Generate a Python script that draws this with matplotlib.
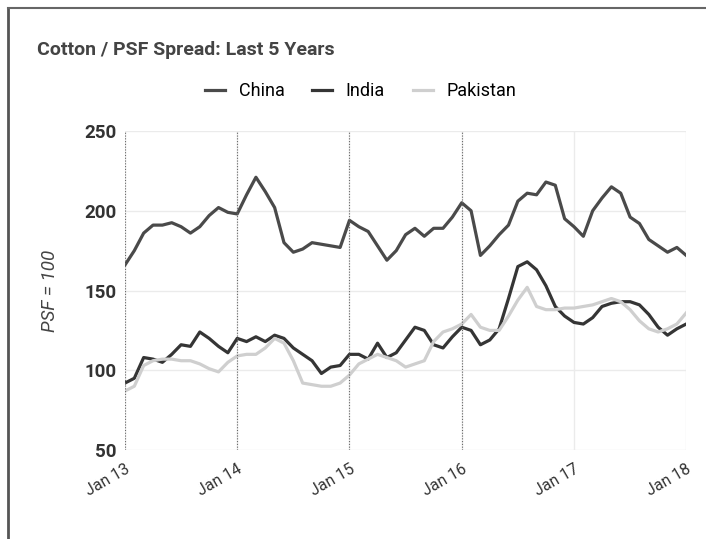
import numpy as np
import matplotlib.pyplot as plt
from matplotlib.lines import Line2D

plt.rcParams['font.family'] = ['Roboto', 'DejaVu Sans']

# monthly values, Jan 2013 .. Jan 2018
months = np.arange(61)
china = [166, 175, 186, 191, 191, 192.5, 190, 186, 190, 197, 202, 199,
         198, 210, 221, 212, 202, 180, 174, 176, 180, 179, 178, 177,
         194, 190, 187, 178, 169, 175, 185, 189, 184, 189, 189, 196,
         205, 200, 172, 178, 185, 191, 206, 211, 210, 218, 216, 195,
         190, 184, 200, 208, 215, 211, 196, 192, 182, 178, 174, 177,
         172]
india = [92, 95, 108, 107, 105, 110, 116, 115, 124, 120, 115, 111,
         120, 118, 121, 118, 122, 120, 114, 110, 106, 98, 102, 103,
         110, 110, 107, 117, 108, 111, 119, 127, 125, 116, 114, 121,
         127, 125, 116, 119, 126, 145, 165, 168, 163, 153, 140, 134,
         130, 129, 133, 140, 142, 143, 143, 141, 135, 127, 122, 126,
         129]
pakistan = [87, 90, 103, 106, 107, 107, 106, 106, 104, 101, 99, 105,
            109, 110, 110, 114, 120, 117, 106, 92, 91, 90, 90, 92,
            97, 104, 107, 110, 108, 106, 102, 104, 106, 118, 124, 126,
            129, 135, 127, 125, 125, 134, 144, 152, 140, 138, 138, 139,
            139, 140, 141, 143, 145, 143, 138, 131, 126, 124, 126, 129,
            136]
tick_pos = [0, 12, 24, 36, 48, 60]
tick_labels = ['Jan 13', 'Jan 14', 'Jan 15', 'Jan 16', 'Jan 17', 'Jan 18']
y_ticks = [50, 100, 150, 200, 250]

fig = plt.figure(figsize=(7.06, 5.39), dpi=100)
ax = fig.add_axes([0.177, 0.165, 0.795, 0.592])

ax.plot(months, china, color='#4a4a4a', lw=2.3, label='China')
ax.plot(months, india, color='#353535', lw=2.3, label='India')
ax.plot(months, pakistan, color='#cfcfcf', lw=2.3, label='Pakistan')

ax.set_xlim(0, 60)
ax.set_ylim(50, 250)
ax.set_xticks(tick_pos)
ax.set_xticklabels(tick_labels, rotation=30, ha='right', rotation_mode='anchor')
ax.set_yticks(y_ticks)
ax.tick_params(length=0, colors='#333333')
ax.tick_params(axis='x', labelsize=11.5, pad=8)
ax.tick_params(axis='y', labelsize=13.5, pad=6)
for lab in ax.get_yticklabels():
    lab.set_fontweight('bold')
ax.grid(True, color='#ebebeb', lw=1)
for p in tick_pos[:4]:
    ax.axvline(p, color='#666666', lw=0.8, ls=(0, (1, 1.5)))
for s in ax.spines.values():
    s.set_visible(False)
ax.set_ylabel('PSF = 100', fontsize=13.5, color='#444444', style='italic', labelpad=18)

fig.text(0.052, 0.898, 'Cotton / PSF Spread: Last 5 Years', fontsize=14,
         fontweight='bold', color='#444444')
ax.legend(loc='center', bbox_to_anchor=(0.42, 1.125), ncol=3, frameon=False,
          fontsize=13, handlelength=1.1, handletextpad=0.75, columnspacing=1.55)

# scanned frame edges
fig.add_artist(Line2D([0.011, 0.011], [0.0, 0.986], color='#555555', lw=2))
fig.add_artist(Line2D([0.011, 1.0], [0.986, 0.986], color='#666666', lw=1.5))

fig.savefig('out.png', dpi=100)
